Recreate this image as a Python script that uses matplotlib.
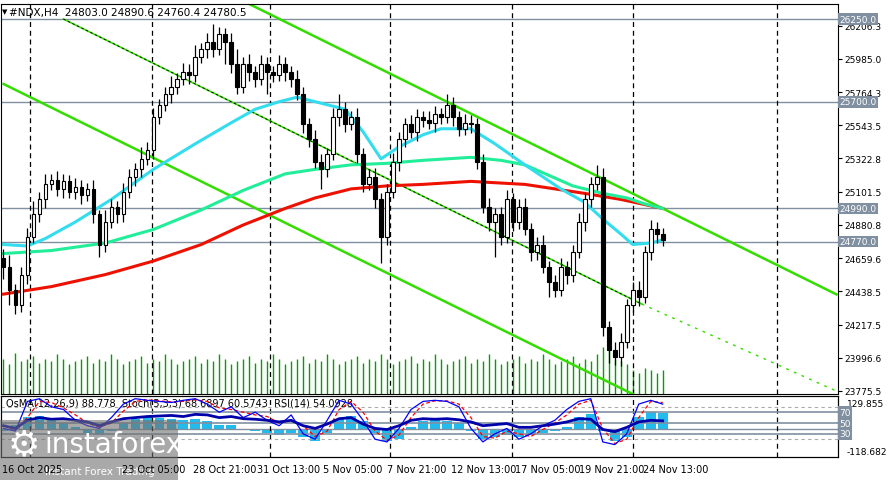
import numpy as np
import matplotlib.pyplot as plt
from matplotlib.patches import Rectangle

# ---- price data (H4 bars) ----
closes = [24600, 24450, 24350, 24550, 24800, 24950, 25050, 25150, 25180, 25120,
          25170, 25100, 25130, 25080, 25120, 24950, 24750, 24900, 25000, 24950,
          25100, 25200, 25250, 25320, 25380, 25600, 25680, 25750, 25800, 25850,
          25900, 25880, 26000, 26050, 26100, 26050, 26150, 26100, 25950, 25800,
          25950, 25900, 25850, 25950, 25900, 25880, 25950, 25900, 25850, 25750,
          25550, 25450, 25300, 25250, 25350, 25600, 25650, 25550, 25600, 25350,
          25150, 25200, 25050, 24800, 25100, 25300, 25450, 25550, 25500, 25600,
          25580, 25560, 25620, 25600, 25680, 25600, 25520, 25560, 25550, 25300,
          25000, 24900, 24950, 24800, 25050, 24900, 25000, 24850, 24700, 24750,
          24600, 24500, 24450, 24600, 24550, 24700, 24900, 25050, 25150, 25200,
          24200, 24050, 24000, 24100, 24350, 24450, 24400, 24700, 24850, 24820,
          24780]
first_open = 24660
wick_up = [60, 80, 40, 50, 60, 90, 50, 70, 40, 60, 50, 40, 60, 50, 40, 60, 30, 80, 50, 40,
           60, 50, 40, 80, 50, 60, 40, 50, 70, 40, 60, 50, 80, 40, 60, 120, 50, 40, 60, 100,
           50, 70, 40, 60, 50, 40, 60, 50, 40, 60, 50, 40, 60, 50, 40, 60, 100, 50, 40, 60,
           40, 50, 60, 40, 50, 60, 50, 40, 60, 50, 40, 60, 50, 40, 70, 50, 40, 60, 50, 40,
           50, 60, 40, 50, 60, 40, 50, 60, 40, 50, 60, 40, 50, 60, 40, 50, 60, 40, 50, 80,
           60, 40, 50, 60, 40, 50, 60, 40, 60, 50, 40]
wick_dn = [80, 100, 60, 50, 60, 40, 50, 60, 40, 50, 60, 40, 50, 60, 40, 60, 80, 50, 40, 60,
           50, 40, 60, 50, 40, 60, 50, 40, 60, 50, 40, 60, 50, 40, 60, 50, 40, 150, 60, 50,
           40, 60, 50, 40, 150, 50, 40, 60, 50, 40, 60, 50, 40, 130, 50, 40, 60, 50, 40, 60,
           50, 40, 60, 170, 50, 40, 60, 50, 40, 60, 50, 40, 60, 50, 40, 60, 50, 40, 60, 50,
           40, 60, 230, 50, 40, 60, 50, 40, 60, 50, 40, 100, 50, 40, 60, 50, 40, 60, 50, 40,
           60, 90, 50, 60, 40, 50, 60, 40, 50, 60, 40]
volume = [30, 25, 35, 28, 30, 32, 26, 30, 28, 34, 30, 25, 28, 30, 32, 26, 30, 28, 34, 30,
          25, 28, 30, 32, 26, 30, 28, 34, 30, 25, 28, 30, 32, 26, 30, 28, 34, 30, 25, 28,
          30, 32, 26, 30, 28, 34, 30, 25, 28, 30, 32, 26, 30, 28, 34, 30, 25, 28, 30, 32,
          26, 30, 28, 34, 30, 25, 28, 30, 32, 26, 30, 28, 34, 30, 25, 28, 30, 32, 26, 30,
          28, 34, 30, 25, 28, 30, 32, 26, 30, 28, 34, 30, 25, 28, 30, 32, 26, 30, 28, 34,
          40, 38, 30, 28, 25, 20, 18, 22, 20, 18, 20]

# moving averages (bar index, price)
ma_fast_x = [0, 4, 7, 12, 18, 25, 32, 38, 42, 46, 49, 53, 57, 60, 63, 66, 70, 73, 78, 82, 87, 90, 93, 97, 100, 103, 105, 108, 110]
ma_fast_y = [24750, 24740, 24790, 24900, 25050, 25250, 25420, 25560, 25650, 25700, 25730, 25690, 25650, 25500, 25320, 25400, 25480, 25520, 25520, 25420, 25280, 25200, 25120, 25030, 24920, 24820, 24750, 24760, 24780]
ma_mid_x = [0, 8, 17, 25, 33, 40, 47, 52, 58, 64, 70, 78, 83, 87, 91, 95, 100, 104, 107, 110]
ma_mid_y = [24690, 24710, 24760, 24850, 24980, 25110, 25220, 25250, 25280, 25290, 25310, 25330, 25310, 25280, 25210, 25140, 25090, 25060, 25020, 24990]
ma_slow_x = [0, 8, 17, 25, 33, 40, 47, 52, 58, 64, 70, 78, 87, 92, 97, 103, 110]
ma_slow_y = [24420, 24470, 24550, 24640, 24750, 24880, 24990, 25060, 25120, 25140, 25150, 25170, 25150, 25120, 25090, 25050, 24990]

# channel lines (bar index, price)
upper_ch = ([41, 139], [26350, 24418])
lower_ch = ([0, 105], [25818, 23755])
mid_ch = ([10, 106.5], [26250, 24354])
mid_ext = ([106.5, 139], [24354, 23775])

levels = [26250.0, 25700.0, 24990.0, 24770.0]
price_ticks = [26206.3, 25985.0, 25764.3, 25543.5, 25322.8, 25101.5, 24880.8,
               24659.6, 24438.5, 24217.5, 23996.6, 23775.5]
vlines_bars = [4.5, 24.7, 44.5, 64.5, 84.8, 105, 129]

# indicator data (every 2 bars)
stoch_k = [40, 35, 90, 95, 80, 75, 55, 45, 40, 60, 85, 95, 92, 90, 88, 92, 95, 85, 70, 80,
           60, 70, 55, 45, 65, 30, 20, 55, 92, 85, 55, 20, 15, 40, 75, 90, 92, 90, 80, 40,
           15, 30, 40, 20, 30, 45, 55, 75, 90, 95, 15, 10, 30, 85, 92, 85]
stoch_d = [45, 38, 60, 90, 88, 78, 65, 50, 42, 50, 72, 90, 93, 91, 89, 90, 93, 90, 78, 75,
           70, 65, 62, 50, 55, 45, 25, 35, 75, 90, 70, 35, 18, 28, 60, 85, 91, 91, 85, 60,
           25, 22, 35, 30, 25, 38, 50, 65, 85, 92, 40, 12, 20, 60, 90, 88]
rsi = [45, 40, 55, 60, 57, 58, 55, 52, 45, 52, 58, 60, 62, 63, 64, 62, 66, 65, 60, 62,
       58, 57, 55, 52, 55, 45, 40, 48, 58, 60, 48, 40, 38, 45, 55, 58, 57, 58, 56, 52,
       45, 47, 49, 42, 42, 45, 48, 52, 58, 57, 38, 34, 42, 52, 55, 54]
osma = [-10, 20, 60, 70, 50, 30, 10, -20, -30, -10, 30, 50, 60, 55, 50, 45, 50, 40, 20, 20,
        0, -10, -20, -30, -20, -40, -60, -20, 50, 70, 40, -20, -60, -50, 10, 40, 50, 40, 30, -10,
        -50, -40, -30, -40, -30, -20, -10, 10, 60, 80, -10, -60, -40, 60, 90, 85]

date_labels = ["16 Oct 2025", "23 Oct 05:00", "28 Oct 21:00", "31 Oct 13:00", "5 Nov 05:00",
               "7 Nov 21:00", "12 Nov 13:00", "17 Nov 05:00", "19 Nov 21:00", "24 Nov 13:00"]
date_px = [2, 122, 193, 257, 323, 387, 451, 515, 579, 643]

W, H = 888, 481
PX = 6.0  # pixels per bar
fig = plt.figure(figsize=(W / 100, H / 100), dpi=100)
fig.patch.set_facecolor("white")
x0 = -0.5
x1 = 838 / PX - 0.5

ax = fig.add_axes([0.5 / W, 1 - 395 / H, 837 / W, 390 / H])
ax.set_xlim(x0, x1)
ax.set_ylim(23755.5, 26350)

n = len(closes)
idx = np.arange(n)
opens = [first_open] + closes[:-1]

# volume on a twin axis
axv = ax.twinx()
axv.set_ylim(0, 330)
axv.set_xlim(x0, x1)
axv.vlines(idx, 0, volume, color="#00a000", lw=1)
axv.axis("off")
ax.set_zorder(axv.get_zorder() + 1)
ax.patch.set_visible(False)

for lv in levels:
    ax.axhline(lv, color="#8090a0", lw=1)
for vb in vlines_bars:
    ax.axvline(vb, color="black", lw=0.9, ls=(0, (4, 3)))

ax.plot(*upper_ch, color="#33dd00", lw=1.8)
ax.plot(*lower_ch, color="#33dd00", lw=1.8)
ax.plot(*mid_ch, color="#33dd00", lw=1.2)
ax.plot(*mid_ch, color="black", lw=0.6, ls=(0, (3, 3)))
ax.plot(*mid_ext, color="#33dd00", lw=1, ls=(0, (2, 4)))

ax.plot(ma_slow_x, ma_slow_y, color="#ee1100", lw=2.2)
ax.plot(ma_mid_x, ma_mid_y, color="#22ee99", lw=2.2)
ax.plot(ma_fast_x, ma_fast_y, color="#33ddee", lw=2.2)

for i in range(n):
    o, c = opens[i], closes[i]
    hi = max(o, c) + wick_up[i]
    lo = min(o, c) - wick_dn[i]
    ax.vlines(i, lo, hi, color="black", lw=0.9, zorder=4)
    fc = "white" if c >= o else "black"
    ax.add_patch(Rectangle((i - 0.3, min(o, c)), 0.6, max(abs(c - o), 4),
                           facecolor=fc, edgecolor="black", lw=0.8, zorder=5))

ax.yaxis.tick_right()
ax.set_yticks(price_ticks)
ax.set_yticklabels([f"{t:.1f}" for t in price_ticks], fontsize=6.5)
ax.set_xticks([])
ax.tick_params(axis="y", length=3, pad=2)
for lv in levels:
    ax.text(x1 + 0.3, lv, f"{lv:.1f}", fontsize=6.5, color="white", va="center", ha="left",
            bbox=dict(boxstyle="square,pad=0.15", fc="#8090a0", ec="none"), clip_on=False, zorder=10)
ax.text(1, 26330, "#NDX,H4  24803.0 24890.6 24760.4 24780.5", fontsize=7.5, va="top")
ax.text(-0.2, 26325, "\u25bc", fontsize=5, va="top")

# ---- indicator panel ----
ai = fig.add_axes([0.5 / W, 1 - 458 / H, 837 / W, 61 / H])
ai.set_xlim(x0, x1)
ai.set_ylim(-144.6, 171)
ix = np.arange(len(osma)) * 2
ai.bar(ix, osma, width=1.6, color="#22bbee")
ai.axhline(0, color="#8090a0", lw=1)
ai.set_xticks([])
ai.set_yticks([])
for vb in vlines_bars:
    ai.axvline(vb, color="black", lw=0.9, ls=(0, (4, 3)))

ar = ai.twinx()
ar.set_xlim(x0, x1)
ar.set_ylim(-12.9, 100)
for lvl in (70, 50, 30):
    ar.axhline(lvl, color="#8090a0", lw=1.2)
for lvl in (80, 20):
    ar.axhline(lvl, color="#aaaaaa", lw=0.8, ls=(0, (3, 3)))
ar.plot(ix, stoch_d, color="red", lw=0.9, ls=(0, (3, 2)))
ar.plot(ix, stoch_k, color="blue", lw=0.9)
ar.plot(ix, rsi, color="#0000aa", lw=2)
ar.set_yticks([])
for lvl in (70, 50, 30):
    ar.text(x1 + 0.3, lvl, str(lvl), fontsize=6.5, color="white", va="center",
            bbox=dict(boxstyle="square,pad=0.15", fc="#8090a0", ec="none"), clip_on=False)
for val in (129.855, -118.682):
    ai.text(x1 + 1.5, val, f"{val:.3f}", fontsize=6.5, va="center", ha="left", clip_on=False)
ai.text(0.5, 165, "OsMA(12,26,9) 88.778  Stoch(5,3,3) 68.6897 60.5743  RSI(14) 54.0928",
        fontsize=7, va="top", zorder=10)

# ---- date labels ----
for lab, px in zip(date_labels, date_px):
    fig.text(px / W, 1 - 470 / H, lab, fontsize=7, va="center", ha="left")

# logo
logo = fig.add_axes([0, 0, 178 / W, 60 / H])
logo.set_facecolor("#707070")
logo.patch.set_alpha(0.6)
logo.set_xticks([])
logo.set_yticks([])
for s in logo.spines.values():
    s.set_visible(False)
logo.text(0.04, 0.6, "\u2699", color="white", fontsize=26, va="center", transform=logo.transAxes)
logo.text(0.25, 0.6, "instaforex", color="white", fontsize=20, va="center", transform=logo.transAxes)
logo.text(0.25, 0.15, "Instant Forex Trading", color="white", fontsize=7.5, va="center",
          transform=logo.transAxes)

fig.savefig("out.png", dpi=100)
